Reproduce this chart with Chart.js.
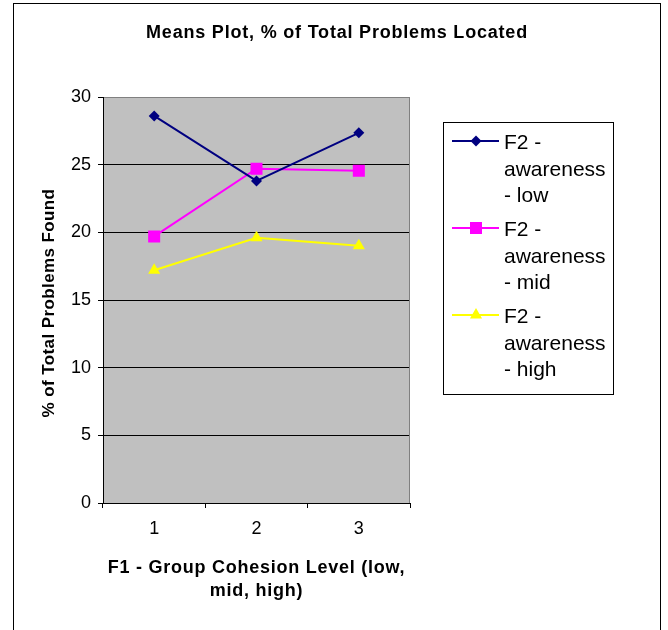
<!DOCTYPE html>
<html>
<head>
<meta charset="utf-8">
<script src="https://cdn.jsdelivr.net/npm/chart.js@4.4.0/dist/chart.umd.min.js"></script>
<style>
  html, body { margin: 0; padding: 0; background: #fff; }
  #wrap { width: 668px; height: 630px; }
</style>
</head>
<body>
<div id="wrap"><canvas id="meansChart" width="668" height="630"></canvas></div>
<script>
"use strict";
const chartTitle = 'Means Plot, % of Total Problems Located';
const xTitle = ['F1 - Group Cohesion Level (low,', 'mid, high)'];
const yTitle = '% of Total Problems Found';
const categories = ['1', '2', '3'];
const seriesNames = ['F2 - awareness - low', 'F2 - awareness - mid', 'F2 - awareness - high'];
const awarenessLow = [28.6, 23.8, 27.35];
const awarenessMid = [19.7, 24.7, 24.55];
const awarenessHigh = [17.2, 19.6, 19.0];
const yMin = 0, yMax = 30, yStep = 5;

const fontFamily = "'Liberation Sans', Arial, sans-serif";
Chart.defaults.font.family = fontFamily;
Chart.defaults.color = '#000';

function drawMarker(ctx, style, x, y, r, color) {
    ctx.fillStyle = color;
    ctx.beginPath();
    if (style === 'rectRot') {
        ctx.moveTo(x, y - r); ctx.lineTo(x + r, y); ctx.lineTo(x, y + r); ctx.lineTo(x - r, y);
    } else if (style === 'rect') {
        let s = r * Math.SQRT1_2;
        ctx.rect(x - s, y - s, 2 * s, 2 * s);
    } else {
        let h = r * Math.sin(Math.PI / 3);
        ctx.moveTo(x, y - r); ctx.lineTo(x + h, y + r / 2); ctx.lineTo(x - h, y + r / 2);
    }
    ctx.closePath();
    ctx.fill();
}

function wrapWords(ctx, text, maxW) {
    let words = text.split(' ');
    let lines = [];
    let line = '';
    for (let w of words) {
        let test = line ? line + ' ' + w : w;
        if (line && ctx.measureText(test).width > maxW) {
            lines.push(line);
            line = w;
        } else {
            line = test;
        }
    }
    lines.push(line);
    return lines;
}

// frame, plot background, titles and legend drawn by hand like the Excel original
const excelLook = {
    id: 'excelLook',
    beforeDraw(chart) {
        const ctx = chart.ctx;
        const a = chart.chartArea;
        ctx.save();
        ctx.fillStyle = '#fff';
        ctx.fillRect(0, 0, chart.width, chart.height);
        ctx.strokeStyle = '#000';
        ctx.lineWidth = 1;
        ctx.strokeRect(13.5, 3.5, 647, 700);
        ctx.fillStyle = '#c0c0c0';
        ctx.fillRect(a.left, a.top, a.right - a.left, a.bottom - a.top);

        ctx.fillStyle = '#000';
        ctx.textAlign = 'center';
        ctx.textBaseline = 'alphabetic';
        ctx.font = 'bold 18px ' + fontFamily;
        ctx.letterSpacing = '0.8px';
        ctx.fillText(chartTitle, 337, 38);

        let cx = (a.left + a.right) / 2;
        ctx.letterSpacing = '0.75px';
        xTitle.forEach((t, j) => ctx.fillText(t, cx, 573 + j * 23));

        ctx.font = 'bold 17px ' + fontFamily;
        ctx.letterSpacing = '0.4px';
        ctx.translate(54, 303);
        ctx.rotate(-Math.PI / 2);
        ctx.fillText(yTitle, 0, 0);
        ctx.restore();
    },
    beforeDatasetsDraw(chart) {
        const ctx = chart.ctx;
        const a = chart.chartArea;
        ctx.save();
        ctx.strokeStyle = '#808080';
        ctx.lineWidth = 1;
        ctx.beginPath();
        ctx.moveTo(a.right - 0.5, a.top);
        ctx.lineTo(a.right - 0.5, a.bottom);
        ctx.stroke();
        ctx.restore();
    },
    afterDraw(chart) {
        const ctx = chart.ctx;
        ctx.save();
        ctx.strokeStyle = '#000';
        ctx.lineWidth = 1;
        ctx.strokeRect(443.5, 122.5, 170, 272);
        ctx.font = '21px ' + fontFamily;
        ctx.textAlign = 'left';
        ctx.textBaseline = 'alphabetic';
        chart.data.datasets.forEach((ds, i) => {
            let base = 149 + i * 87;
            let lines = wrapWords(ctx, ds.label, 106);
            let my = base - 8;
            ctx.strokeStyle = ds.borderColor;
            ctx.lineWidth = ds.borderWidth;
            ctx.beginPath();
            ctx.moveTo(452, my);
            ctx.lineTo(499, my);
            ctx.stroke();
            drawMarker(ctx, ds.pointStyle, 476, my, ds.pointRadius, ds.borderColor);
            ctx.fillStyle = '#000';
            lines.forEach((t, j) => ctx.fillText(t, 504, base + j * 26.5));
        });
        ctx.restore();
    }
};

const seriesValues = [awarenessLow, awarenessMid, awarenessHigh];
const seriesColors = ['#000080', '#ff00ff', '#ffff00'];
const seriesMarkers = ['rectRot', 'rect', 'triangle'];
const seriesRadius = [5.5, 8.5, 7];

const config = {
    type: 'line',
    data: {
        labels: categories,
        datasets: seriesNames.map((name, i) => ({
            label: name,
            data: seriesValues[i],
            borderColor: seriesColors[i],
            backgroundColor: seriesColors[i],
            borderWidth: 2,
            pointStyle: seriesMarkers[i],
            pointRadius: seriesRadius[i],
            pointHoverRadius: seriesRadius[i],
            pointBorderWidth: 0,
            tension: 0
        }))
    },
    options: {
        responsive: false,
        devicePixelRatio: 1,
        animation: false,
        layout: { padding: { top: 97, right: 258, bottom: 0, left: 0 } },
        plugins: {
            legend: { display: false },
            title: { display: false },
            tooltip: { enabled: false }
        },
        scales: {
            x: {
                offset: true,
                grid: { offset: true, drawOnChartArea: false, drawTicks: true, tickLength: 5, color: '#000' },
                border: { color: '#000', width: 1 },
                ticks: { font: { size: 18 }, padding: 10, maxRotation: 0 },
                afterFit(scale) { scale.height = 127; }
            },
            y: {
                min: yMin,
                max: yMax,
                ticks: { stepSize: yStep, font: { size: 18 }, padding: 7 },
                grid: {
                    color: ctx => (ctx.tick && ctx.tick.value === yMax) ? '#808080' : '#000',
                    tickColor: '#000',
                    tickLength: 5
                },
                border: { color: '#000', width: 1 },
                afterFit(scale) { scale.width = 103; }
            }
        }
    },
    plugins: [excelLook]
};

let canvasChart = document.getElementById('meansChart');
const meansChart = new Chart(canvasChart, config);
</script>
</body>
</html>
